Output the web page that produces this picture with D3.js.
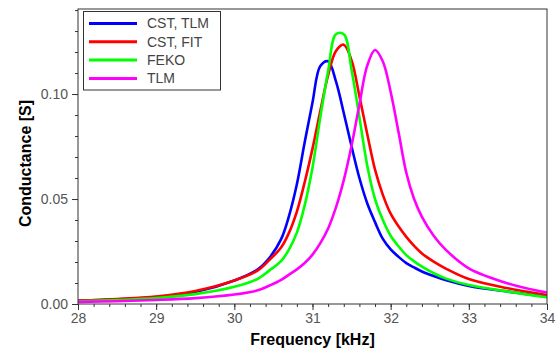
<!DOCTYPE html>
<html>
<head>
<meta charset="utf-8">
<script src="https://cdn.jsdelivr.net/npm/d3@7"></script>
<style>
  html, body { margin: 0; padding: 0; background: #fff; }
  svg { display: block; font-family: "Liberation Sans", Arial, sans-serif; }
</style>
</head>
<body>
<svg id="chart"></svg>
<script>
// frequency grid in kHz
const freq = [28, 28.5, 29, 29.5, 30, 30.3, 30.45, 30.6, 30.7, 30.8, 30.9, 31.0, 31.1, 31.2, 31.3, 31.4,
              31.5, 31.6, 31.7, 31.8, 31.9, 32.0, 32.1, 32.2, 32.3, 32.4, 32.55, 32.7, 33, 33.5, 34];

// conductance [S]
const cstTlm = [0.0015, 0.0022, 0.0033, 0.0057, 0.0112, 0.0165, 0.022, 0.031, 0.042, 0.057, 0.077, 0.096, 0.1133, 0.1156, 0.106, 0.091,
                0.075, 0.060, 0.048, 0.039, 0.031, 0.026, 0.0225, 0.0195, 0.0174, 0.0155, 0.0133, 0.0114, 0.0086, 0.0059, 0.0035];
const cstFit = [0.0016, 0.0024, 0.0036, 0.0062, 0.0112, 0.016, 0.021, 0.027, 0.034, 0.044, 0.058, 0.074, 0.092, 0.109, 0.1205, 0.1235,
                0.116, 0.099, 0.081, 0.064, 0.052, 0.043, 0.037, 0.032, 0.0277, 0.0241, 0.0202, 0.017, 0.0119, 0.0075, 0.0043];
const feko   = [0.0013, 0.0019, 0.0028, 0.0047, 0.0082, 0.012, 0.016, 0.0205, 0.026, 0.034, 0.047, 0.065, 0.089, 0.111, 0.1285, 0.1285,
                0.1115, 0.089, 0.066, 0.050, 0.040, 0.0325, 0.0275, 0.0233, 0.0203, 0.0178, 0.0147, 0.0122, 0.009, 0.0059, 0.0032];
const tlm    = [0.001, 0.0013, 0.0019, 0.0028, 0.0045, 0.0065, 0.0088, 0.0115, 0.014, 0.0165, 0.0195, 0.0235, 0.029, 0.036, 0.046, 0.059,
                0.0755, 0.095, 0.1135, 0.121, 0.1155, 0.101, 0.082, 0.0625, 0.050, 0.0415, 0.0325, 0.026, 0.017, 0.0098, 0.0054];

const seriesNames = ["CST, TLM", "CST, FIT", "FEKO", "TLM"];
const seriesColors = ["#0000ff", "#ff0000", "#00ff00", "#ff00ff"];
const seriesValues = [cstTlm, cstFit, feko, tlm];

const xTicks = [28, 29, 30, 31, 32, 33, 34];
const yTicks = [0, 0.05, 0.10];

const width = 560, height = 354;
const margin = {left: 78, right: 13, top: 9, bottom: 50};
const w = width - margin.left - margin.right;
const h = height - margin.top - margin.bottom;

const svg = d3.select("#chart").attr("width", width).attr("height", height);
const g = svg.append("g").attr("transform", "translate(" + margin.left + "," + margin.top + ")");

const x = d3.scaleLinear().domain([28, 34]).range([0, w]);
const y = d3.scaleLinear().domain([0, 0.1405]).range([h, 0]);

const axisColor = "#333";
const labelColor = "#555";

// minor ticks
g.append("g")
  .attr("transform", "translate(0," + h + ")")
  .call(d3.axisBottom(x).tickValues(d3.range(28, 34.01, 0.2)).tickSize(3).tickFormat(""))
  .call(a => a.select(".domain").remove())
  .call(a => a.selectAll("line").attr("stroke", axisColor));
g.append("g")
  .call(d3.axisLeft(y).tickValues(d3.range(0, 0.1401, 0.01)).tickSize(3).tickFormat(""))
  .call(a => a.select(".domain").remove())
  .call(a => a.selectAll("line").attr("stroke", axisColor));

// major ticks + labels
g.append("g")
  .attr("transform", "translate(0," + h + ")")
  .call(d3.axisBottom(x).tickValues(xTicks).tickSize(6).tickPadding(3).tickFormat(d3.format("d")))
  .call(a => a.select(".domain").remove())
  .call(a => a.selectAll("line").attr("stroke", axisColor))
  .call(a => a.selectAll("text").attr("fill", labelColor).style("font-size", "14px")
      .style("font-family", "Liberation Sans, Arial, sans-serif"));
g.append("g")
  .call(d3.axisLeft(y).tickValues(yTicks).tickSize(6).tickPadding(4).tickFormat(d3.format(".2f")))
  .call(a => a.select(".domain").remove())
  .call(a => a.selectAll("line").attr("stroke", axisColor))
  .call(a => a.selectAll("text").attr("fill", labelColor).style("font-size", "14px")
      .style("font-family", "Liberation Sans, Arial, sans-serif"));

// curves
const line = d3.line()
  .x((d, i) => x(freq[i]))
  .y(d => y(d))
  .curve(d3.curveCatmullRom.alpha(0.5));

g.append("clipPath").attr("id", "plotclip")
  .append("rect").attr("width", w).attr("height", h);

seriesValues.forEach((vals, k) => {
  g.append("path")
    .datum(vals)
    .attr("fill", "none")
    .attr("stroke", seriesColors[k])
    .attr("stroke-width", 2.6)
    .attr("stroke-linejoin", "round")
    .attr("clip-path", "url(#plotclip)")
    .attr("d", line);
});

// frame
g.append("rect")
  .attr("width", w).attr("height", h)
  .attr("fill", "none").attr("stroke", axisColor).attr("stroke-width", 1);

// legend
const leg = svg.append("g").attr("transform", "translate(83.5,11.5)");
leg.append("rect").attr("width", 137).attr("height", 78.5)
  .attr("fill", "#fff").attr("stroke", axisColor).attr("stroke-width", 1);
seriesNames.forEach((name, k) => {
  const yy = 12 + k * 18.3;
  leg.append("line").attr("x1", 5.5).attr("x2", 53.5).attr("y1", yy).attr("y2", yy)
    .attr("stroke", seriesColors[k]).attr("stroke-width", 3);
  leg.append("text").attr("x", 63.5).attr("y", yy).attr("dy", "0.35em")
    .attr("fill", "#444").style("font-size", "14px").text(name);
});

// axis titles
svg.append("text")
  .attr("x", margin.left + w / 2).attr("y", 345)
  .attr("text-anchor", "middle")
  .style("font-size", "16px").style("font-weight", "bold").attr("fill", "#000")
  .text("Frequency [kHz]");
svg.append("text")
  .attr("transform", "translate(30.5," + 163.5 + ") rotate(-90)")
  .attr("text-anchor", "middle")
  .style("font-size", "16px").style("font-weight", "bold").attr("fill", "#000")
  .text("Conductance [S]");
</script>
</body>
</html>
